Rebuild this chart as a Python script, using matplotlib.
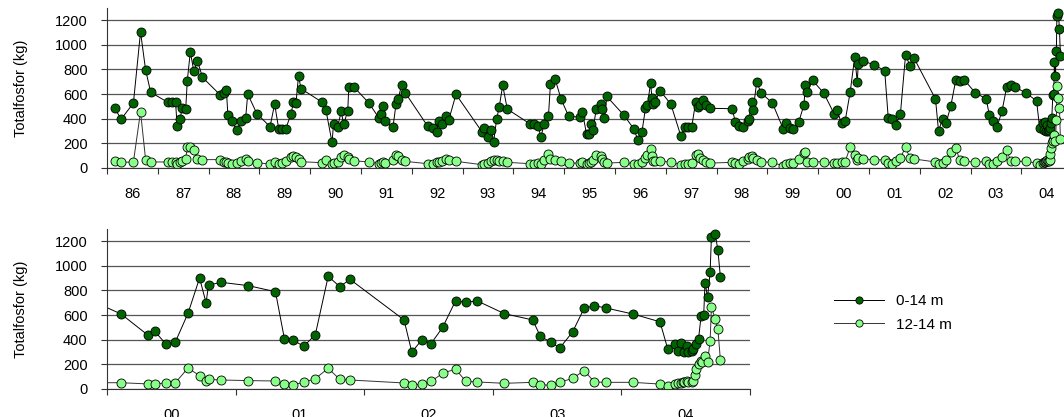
import matplotlib
matplotlib.use("Agg")
import matplotlib.pyplot as plt
from matplotlib.ticker import FixedLocator, NullFormatter

plt.rcParams['font.family'] = ['Liberation Sans', 'DejaVu Sans']

# 0-14 m (sampling date as decimal year, kg)
deep_years = [
    1986.15, 1986.28, 1986.52, 1986.66, 1986.76, 1986.86, 1987.20, 1987.27, 1987.35, 1987.38,
    1987.44, 1987.48, 1987.55, 1987.58, 1987.64, 1987.71, 1987.78, 1987.88, 1988.23, 1988.30,
    1988.35, 1988.38, 1988.46, 1988.55, 1988.64, 1988.73, 1988.77, 1988.95, 1989.21, 1989.30,
    1989.38, 1989.44, 1989.52, 1989.62, 1989.67, 1989.72, 1989.77, 1989.82, 1990.23, 1990.31,
    1990.43, 1990.46, 1990.54, 1990.61, 1990.66, 1990.74, 1990.76, 1990.86, 1991.15, 1991.35,
    1991.40, 1991.44, 1991.47, 1991.63, 1991.69, 1991.73, 1991.80, 1991.87, 1992.31, 1992.41,
    1992.49, 1992.54, 1992.60, 1992.68, 1992.73, 1992.87, 1993.38, 1993.43, 1993.50, 1993.56,
    1993.61, 1993.67, 1993.72, 1993.79, 1993.88, 1994.33, 1994.41, 1994.49, 1994.54, 1994.61,
    1994.69, 1994.73, 1994.82, 1994.94, 1995.09, 1995.31, 1995.36, 1995.44, 1995.48, 1995.53,
    1995.57, 1995.63, 1995.72, 1995.75, 1995.79, 1995.84, 1996.18, 1996.37, 1996.45, 1996.53,
    1996.60, 1996.64, 1996.70, 1996.73, 1996.75, 1996.79, 1996.89, 1997.10, 1997.30, 1997.37,
    1997.44, 1997.51, 1997.59, 1997.64, 1997.67, 1997.73, 1997.79, 1997.88, 1998.31, 1998.37,
    1998.45, 1998.52, 1998.61, 1998.64, 1998.69, 1998.72, 1998.79, 1998.88, 1999.10, 1999.31,
    1999.36, 1999.44, 1999.51, 1999.62, 1999.72, 1999.75, 1999.79, 1999.89, 2000.11, 2000.32,
    2000.37, 2000.46, 2000.53, 2000.63, 2000.72, 2000.77, 2000.79, 2000.89, 2001.10, 2001.31,
    2001.38, 2001.45, 2001.53, 2001.62, 2001.72, 2001.81, 2001.89, 2002.31, 2002.37, 2002.45,
    2002.52, 2002.61, 2002.71, 2002.79, 2002.88, 2003.09, 2003.31, 2003.37, 2003.45, 2003.52,
    2003.62, 2003.71, 2003.79, 2003.88, 2004.09, 2004.30, 2004.36, 2004.42, 2004.44, 2004.46,
    2004.49, 2004.51, 2004.52, 2004.55, 2004.56, 2004.58, 2004.60, 2004.62, 2004.64, 2004.65,
    2004.67, 2004.69, 2004.70, 2004.73, 2004.75, 2004.77,
]
deep_vals = [
    484, 397, 527, 1103, 795, 614, 532, 532, 535, 343,
    400, 487, 481, 705, 941, 784, 870, 735, 592, 611,
    632, 430, 384, 308, 378, 408, 600, 441, 335, 519,
    319, 319, 319, 435, 532, 527, 746, 643, 535, 470,
    208, 354, 330, 459, 354, 465, 657, 657, 530, 408,
    438, 505, 381, 332, 519, 557, 673, 611, 341, 322,
    289, 384, 360, 422, 392, 597, 295, 322, 254, 305,
    208, 395, 492, 670, 478, 357, 357, 343, 251, 359,
    418, 680, 723, 558, 418, 413, 453, 275, 278, 359,
    310, 477, 518, 477, 402, 580, 426, 318, 229, 289,
    483, 512, 688, 566, 518, 539, 626, 518, 256, 332,
    335, 330, 539, 491, 510, 550, 512, 484, 481, 370,
    338, 335, 378, 400, 532, 470, 695, 608, 527, 319,
    365, 322, 316, 376, 511, 670, 619, 711, 608, 435,
    470, 362, 378, 614, 900, 700, 843, 865, 838, 789,
    405, 395, 346, 441, 914, 830, 889, 560, 300, 400,
    368, 500, 714, 705, 714, 611, 560, 427, 381, 332,
    462, 654, 676, 657, 608, 545, 326, 368, 308, 373,
    298, 350, 304, 310, 325, 365, 408, 595, 600, 862,
    745, 950, 1233, 1257, 1127, 908,
]

# 12-14 m
bottom_years = [
    1986.15, 1986.28, 1986.52, 1986.66, 1986.76, 1986.86, 1987.20, 1987.27, 1987.35, 1987.38,
    1987.44, 1987.48, 1987.55, 1987.58, 1987.64, 1987.71, 1987.78, 1987.88, 1988.23, 1988.30,
    1988.35, 1988.38, 1988.46, 1988.55, 1988.64, 1988.73, 1988.77, 1988.95, 1989.21, 1989.30,
    1989.38, 1989.44, 1989.52, 1989.62, 1989.67, 1989.72, 1989.77, 1989.82, 1990.23, 1990.31,
    1990.43, 1990.46, 1990.54, 1990.61, 1990.66, 1990.74, 1990.76, 1990.86, 1991.15, 1991.35,
    1991.40, 1991.44, 1991.47, 1991.63, 1991.69, 1991.73, 1991.80, 1991.87, 1992.31, 1992.41,
    1992.49, 1992.54, 1992.60, 1992.68, 1992.73, 1992.87, 1993.38, 1993.43, 1993.50, 1993.56,
    1993.61, 1993.67, 1993.72, 1993.79, 1993.88, 1994.33, 1994.41, 1994.49, 1994.54, 1994.61,
    1994.69, 1994.73, 1994.82, 1994.94, 1995.09, 1995.31, 1995.36, 1995.44, 1995.48, 1995.53,
    1995.57, 1995.63, 1995.72, 1995.75, 1995.79, 1995.84, 1996.18, 1996.37, 1996.45, 1996.53,
    1996.60, 1996.64, 1996.70, 1996.73, 1996.75, 1996.79, 1996.89, 1997.10, 1997.30, 1997.37,
    1997.44, 1997.51, 1997.59, 1997.64, 1997.67, 1997.73, 1997.79, 1997.88, 1998.31, 1998.37,
    1998.45, 1998.52, 1998.61, 1998.64, 1998.69, 1998.72, 1998.79, 1998.88, 1999.10, 1999.31,
    1999.36, 1999.44, 1999.51, 1999.62, 1999.72, 1999.75, 1999.79, 1999.89, 2000.11, 2000.32,
    2000.37, 2000.46, 2000.53, 2000.63, 2000.72, 2000.77, 2000.79, 2000.89, 2001.10, 2001.31,
    2001.38, 2001.45, 2001.53, 2001.62, 2001.72, 2001.81, 2001.89, 2002.31, 2002.37, 2002.45,
    2002.52, 2002.61, 2002.71, 2002.79, 2002.88, 2003.09, 2003.31, 2003.37, 2003.45, 2003.52,
    2003.62, 2003.71, 2003.79, 2003.88, 2004.09, 2004.30, 2004.36, 2004.42, 2004.44, 2004.46,
    2004.48, 2004.49, 2004.51, 2004.52, 2004.55, 2004.56, 2004.57, 2004.58, 2004.60, 2004.62,
    2004.63, 2004.65, 2004.67, 2004.69, 2004.70, 2004.73, 2004.75, 2004.77,
]
bottom_vals = [
    59, 46, 49, 457, 68, 49, 49, 49, 49, 35,
    46, 59, 76, 168, 173, 146, 73, 68, 68, 51,
    46, 41, 35, 43, 54, 70, 59, 43, 32, 46,
    35, 43, 57, 92, 97, 92, 73, 51, 43, 65,
    30, 43, 51, 92, 105, 92, 73, 59, 49, 35,
    40, 49, 40, 67, 108, 94, 67, 54, 35, 35,
    46, 51, 57, 70, 67, 54, 27, 35, 40, 54,
    62, 67, 59, 57, 46, 35, 35, 40, 35, 67,
    113, 73, 67, 54, 40, 40, 46, 35, 40, 49,
    67, 108, 94, 73, 49, 40, 46, 35, 32, 46,
    81, 108, 154, 100, 54, 54, 57, 46, 27, 35,
    35, 40, 102, 116, 81, 62, 51, 40, 46, 38,
    32, 59, 73, 92, 100, 78, 65, 51, 46, 16,
    30, 38, 38, 73, 121, 132, 51, 51, 51, 41,
    41, 49, 49, 170, 108, 65, 78, 73, 68, 65,
    38, 35, 54, 84, 168, 78, 73, 49, 30, 41,
    62, 127, 162, 62, 57, 46, 54, 35, 30, 54,
    86, 149, 57, 54, 54, 40, 28, 43, 49, 52,
    56, 59, 65, 54, 59, 65, 110, 160, 200, 225,
    222, 265, 218, 392, 666, 565, 490, 232,
]

y_ticks = [0, 200, 400, 600, 800, 1000, 1200]

W, H = 1064, 417
fig = plt.figure(figsize=(W / 100, H / 100), dpi=100)

ax_top = fig.add_axes([107 / W, 1 - 168 / H, 957 / W, 160.3 / H])
ax_bot = fig.add_axes([107 / W, 1 - 389 / H, 643 / W, 160.3 / H])


def style_axis(ax, first_year, last_year, xmax):
    ax.set_xlim(first_year, xmax)
    ax.set_ylim(0, 1300)
    ax.set_yticks(y_ticks)
    ax.yaxis.grid(True, color='#555555', linewidth=0.9)
    ax.set_axisbelow(True)
    ax.xaxis.set_major_locator(FixedLocator(list(range(first_year, last_year + 1))))
    ax.xaxis.set_major_formatter(NullFormatter())
    mids = [y + 0.5 for y in range(first_year, last_year)]
    ax.xaxis.set_minor_locator(FixedLocator(mids))
    ax.set_xticklabels([f"{int(m) % 100:02d}" for m in mids], minor=True)
    ax.tick_params(axis='x', which='major', length=4, color='#333333', width=0.8)
    ax.tick_params(axis='x', which='minor', length=0, pad=14, labelsize=10.5)
    ax.tick_params(axis='y', length=4, color='#333333', width=0.8, pad=10, labelsize=10.5)
    for s in ['top', 'right']:
        ax.spines[s].set_visible(False)
    ax.spines['left'].set_color('#333333')
    ax.spines['bottom'].set_color('#333333')
    ax.set_ylabel('Totalfosfor (kg)', fontsize=10.5, labelpad=6)


for ax in (ax_top, ax_bot):
    ax.plot(deep_years, deep_vals, '-o', color='black', linewidth=0.7,
            markersize=6.5, markerfacecolor='#006400', markeredgecolor='black',
            markeredgewidth=0.6, label='0-14 m')
    ax.plot(bottom_years, bottom_vals, '-o', color='#333333', linewidth=0.7,
            markersize=6.5, markerfacecolor='#88ff88', markeredgecolor='black',
            markeredgewidth=0.6, label='12-14 m')

style_axis(ax_top, 1986, 2005, 2004.84)
style_axis(ax_bot, 2000, 2005, 2005.0)
ax_top.yaxis.set_label_coords(-0.083, 0.5)
ax_bot.yaxis.set_label_coords(-0.083 * 957 / 643, 0.5)

handles, labels = ax_bot.get_legend_handles_labels()
fig.legend(handles, labels, loc='center left', bbox_to_anchor=(820 / W, 1 - 313 / H),
           frameon=False, fontsize=11, handlelength=3.3, markerscale=0.8,
           labelspacing=0.6, handletextpad=0.8)

fig.savefig('out.png', dpi=100)
